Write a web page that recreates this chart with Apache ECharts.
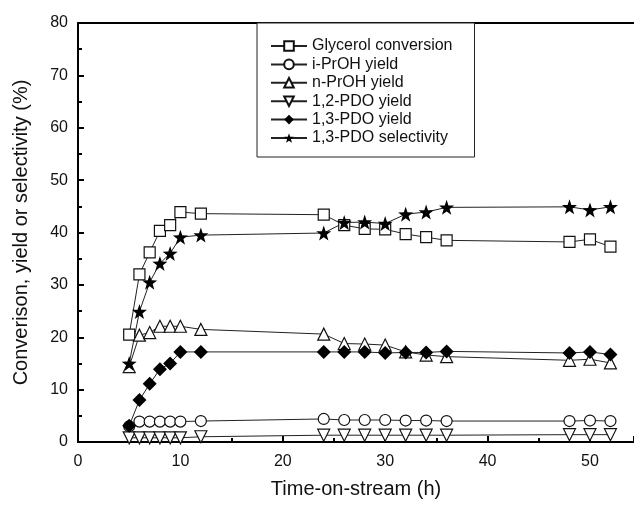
<!DOCTYPE html>
<html>
<head>
<meta charset="utf-8">
<script src="https://cdn.jsdelivr.net/npm/echarts@6/dist/echarts.min.js"></script>
<style>
  html, body { margin: 0; padding: 0; background: #fff; }
  #chart { width: 634px; height: 505px; }
</style>
</head>
<body>
<div id="chart"></div>
<script>
// time-on-stream (h)
var times = [5, 6, 7, 8, 9, 10, 12, 24, 26, 28, 30, 32, 34, 36, 48, 50, 52];
// values (%)
var glycerolConv = [20.5, 32.0, 36.2, 40.3, 41.4, 43.9, 43.6, 43.4, 41.4, 40.7, 40.6, 39.7, 39.1, 38.5, 38.2, 38.7, 37.3];
var iPrOHYield   = [3.0, 3.9, 3.9, 3.9, 3.9, 3.9, 4.0, 4.4, 4.2, 4.2, 4.2, 4.1, 4.1, 4.0, 4.0, 4.1, 4.0];
var nPrOHYield   = [14.4, 20.4, 20.9, 22.1, 22.1, 22.1, 21.5, 20.6, 18.8, 18.7, 18.5, 17.2, 16.6, 16.3, 15.6, 15.8, 15.1];
var pdo12Yield   = [0.8, 0.8, 0.8, 0.8, 0.8, 0.8, 1.0, 1.3, 1.3, 1.3, 1.3, 1.3, 1.3, 1.3, 1.4, 1.4, 1.4];
var pdo13Yield   = [3.1, 8.0, 11.1, 13.9, 15.0, 17.2, 17.2, 17.2, 17.2, 17.2, 17.0, 17.1, 17.1, 17.3, 17.0, 17.2, 16.7];
var pdo13Select  = [15.0, 24.9, 30.5, 34.1, 36.0, 39.1, 39.5, 39.9, 41.9, 42.0, 41.7, 43.5, 43.9, 44.8, 44.9, 44.3, 44.9];

var names = ['Glycerol conversion', 'i-PrOH yield', 'n-PrOH yield', '1,2-PDO yield', '1,3-PDO yield', '1,3-PDO selectivity'];

var starPath = 'path://M0,-10L2.35,-3.24L9.51,-3.09L3.8,1.24L5.88,8.09L0,4L-5.88,8.09L-3.8,1.24L-9.51,-3.09L-2.35,-3.24Z';
var font = '"Liberation Sans", Arial, sans-serif';

function pairs(arr) {
  return times.map(function (t, i) { return [t, arr[i]]; });
}

function mkSeries(name, arr, symbol, size, filled, rotate) {
  return {
    name: name,
    type: 'line',
    data: pairs(arr),
    symbol: symbol,
    symbolSize: size,
    symbolRotate: rotate || 0,
    showAllSymbol: true,
    animation: false,
    lineStyle: { color: '#222', width: 1 },
    itemStyle: {
      color: filled ? '#000' : '#fff',
      borderColor: '#111',
      borderWidth: filled ? 0 : 1.2
    }
  };
}

var chart = echarts.init(document.getElementById('chart'));
chart.setOption({
  backgroundColor: '#fff',
  textStyle: { fontFamily: font },
  grid: { left: 78, top: 23, right: 0, bottom: 63, show: false },
  legend: {
    data: names,
    orient: 'vertical',
    left: 257, top: 23,
    itemWidth: 36, itemHeight: 12, itemGap: 2.4,
    padding: [15, 22, 11, 13],
    borderColor: '#222', borderWidth: 1,
    backgroundColor: '#fff',
    textStyle: { fontFamily: font, fontSize: 16, lineHeight: 16, color: '#111' },
    selectedMode: false
  },
  xAxis: [{
    type: 'value',
    min: 0, max: 54.3, interval: 10,
    name: 'Time-on-stream (h)',
    nameLocation: 'middle', nameGap: 37,
    nameTextStyle: { fontSize: 20, color: '#111', fontFamily: font },
    axisLine: { lineStyle: { color: '#000', width: 2 } },
    axisTick: { inside: true, length: 6, lineStyle: { color: '#000', width: 2 } },
    minorTick: { show: true, splitNumber: 2, length: 4, lineStyle: { color: '#000', width: 2 } },
    axisLabel: { fontSize: 16, color: '#111', margin: 12, fontFamily: font, showMaxLabel: false },
    splitLine: { show: false }
  }, {
    // top frame line
    type: 'value', position: 'top',
    min: 0, max: 54.3,
    axisLine: { show: true, lineStyle: { color: '#000', width: 2 } },
    axisTick: { show: false },
    axisLabel: { show: false },
    splitLine: { show: false }
  }],
  yAxis: {
    type: 'value',
    min: 0, max: 80, interval: 10,
    name: 'Converison, yield or selectivity (%)',
    nameLocation: 'middle', nameGap: 47,
    nameTextStyle: { fontSize: 20, color: '#111', fontFamily: font },
    axisLine: { lineStyle: { color: '#000', width: 2 } },
    axisTick: { inside: true, length: 6, lineStyle: { color: '#000', width: 2 } },
    minorTick: { show: true, splitNumber: 2, length: 4, lineStyle: { color: '#000', width: 2 } },
    axisLabel: { fontSize: 16, color: '#111', margin: 10, fontFamily: font },
    splitLine: { show: false }
  },
  series: [
    mkSeries(names[0], glycerolConv, 'rect', 11, false),
    mkSeries(names[1], iPrOHYield, 'circle', 11, false),
    mkSeries(names[2], nPrOHYield, 'triangle', 12, false),
    mkSeries(names[3], pdo12Yield, 'triangle', 12, false, 180),
    mkSeries(names[4], pdo13Yield, 'diamond', 14, true),
    mkSeries(names[5], pdo13Select, starPath, 15, true)
  ]
});
</script>
</body>
</html>
